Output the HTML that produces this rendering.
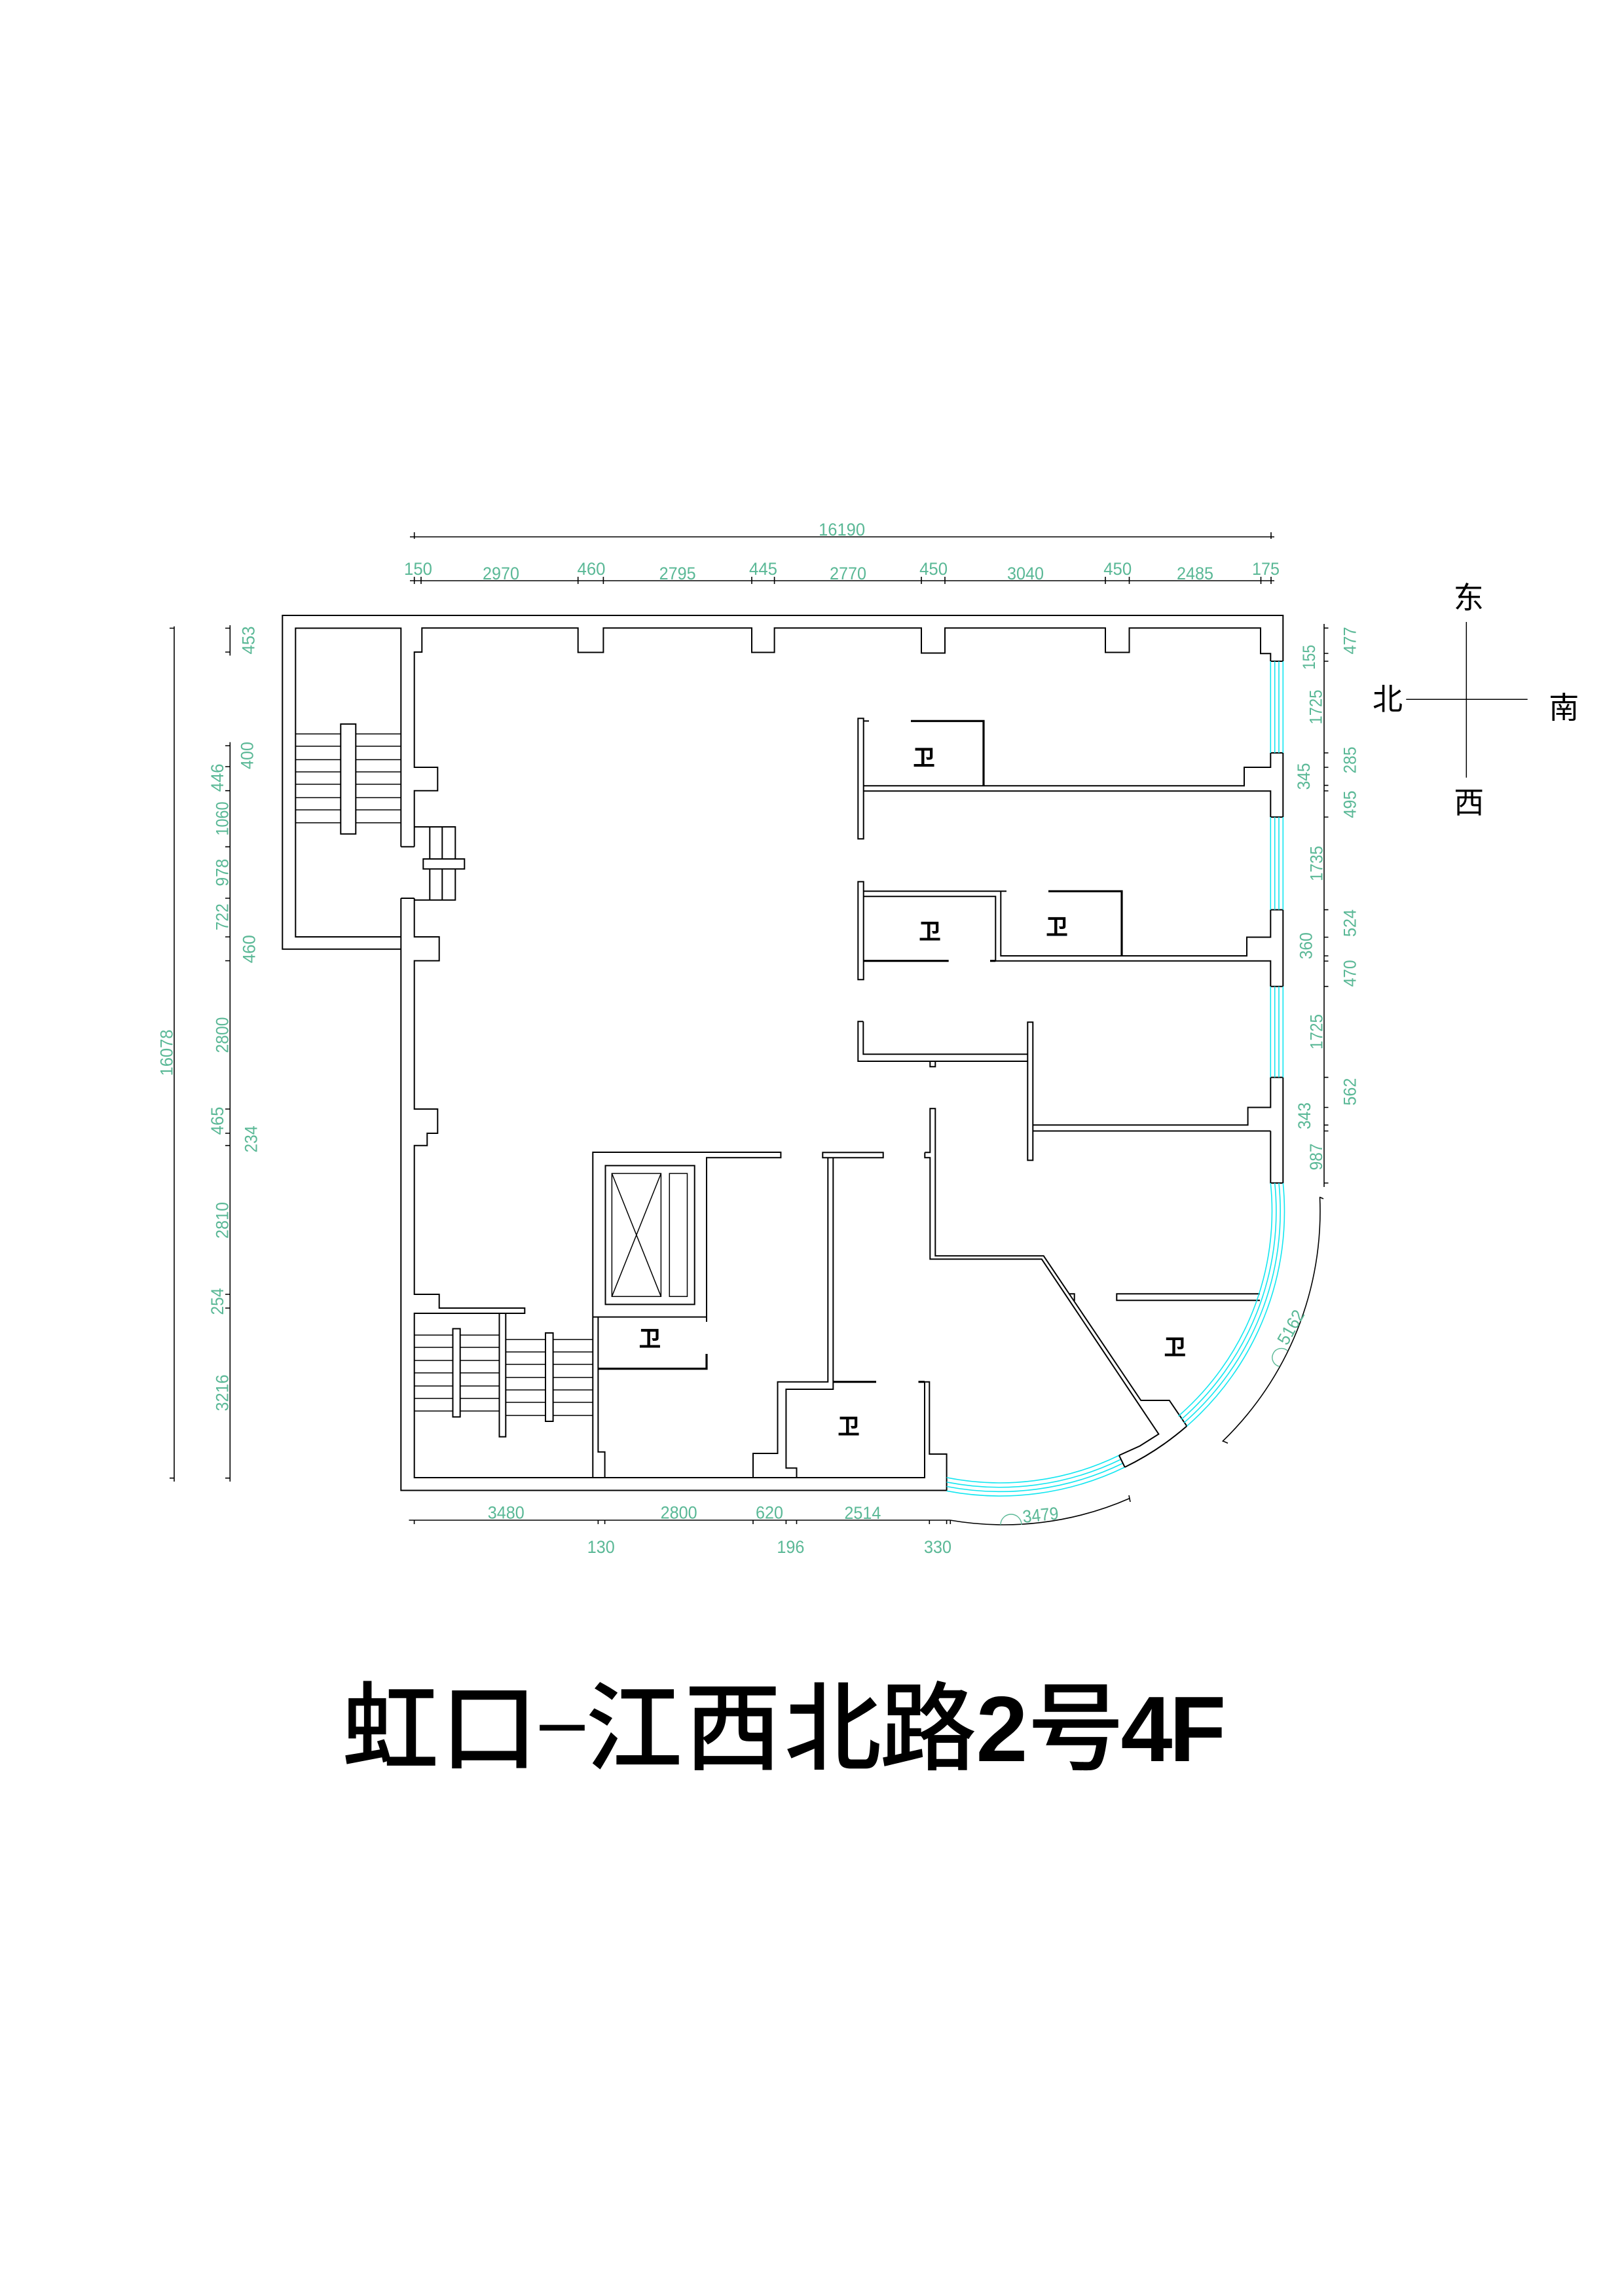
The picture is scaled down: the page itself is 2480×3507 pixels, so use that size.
<!DOCTYPE html>
<html><head><meta charset="utf-8"><style>
html,body{margin:0;padding:0;background:#fff}
svg{display:block}
.w{fill:none;stroke:#000;stroke-width:2}
.b{fill:none;stroke:#000;stroke-width:3.2}
.t{fill:none;stroke:#000;stroke-width:1.5}
.wf{fill:#fff;stroke:#000;stroke-width:2}
.c{fill:none;stroke:#12e6f0;stroke-width:1.6}
.d{fill:none;stroke:#000;stroke-width:1.6}
.g{fill:none;stroke:#5ab896;stroke-width:1.4}
.n{font-family:"Liberation Sans",sans-serif;font-size:27px;fill:#5ab896;text-anchor:middle}
.k{font-family:"Liberation Sans","Noto Sans CJK SC",sans-serif;font-size:34px;font-weight:bold;fill:#000;text-anchor:middle}
.cp{font-family:"Liberation Sans","Noto Sans CJK SC",sans-serif;font-size:46px;fill:#000;text-anchor:middle}
.tt{font-family:"Liberation Sans","Noto Sans CJK SC",sans-serif;font-size:148px;font-weight:500;fill:#000;text-anchor:middle}
.tl{font-family:"Liberation Sans",sans-serif;font-size:142px;font-weight:bold;fill:#000;text-anchor:middle}
.th{font-family:"Liberation Sans",sans-serif;font-size:148px;fill:#000;text-anchor:middle}
</style></head><body>
<svg width="2480" height="3507" viewBox="0 0 2480 3507" xmlns="http://www.w3.org/2000/svg">
<rect width="2480" height="3507" fill="#fff"/>

<!-- ===== TOP DIMENSIONS ===== -->
<path class="d" d="M626 820H1946M632.7 813V823M1941 813V823"/>
<path class="d" d="M626 887H1946M632.7 881V892M643 881V892M882.7 881V892M921.4 881V892M1148 881V892M1182.6 881V892M1407 881V892M1443 881V892M1688 881V892M1724.5 881V892M1925.5 881V892M1941 881V892"/>
<text class="n" x="1285.6" y="818" textLength="71" lengthAdjust="spacingAndGlyphs">16190</text>
<text class="n" x="638.5" y="878" textLength="43" lengthAdjust="spacingAndGlyphs">150</text>
<text class="n" x="765" y="885" textLength="56" lengthAdjust="spacingAndGlyphs">2970</text>
<text class="n" x="903" y="878" textLength="43" lengthAdjust="spacingAndGlyphs">460</text>
<text class="n" x="1034.6" y="885" textLength="56" lengthAdjust="spacingAndGlyphs">2795</text>
<text class="n" x="1165.5" y="878" textLength="43" lengthAdjust="spacingAndGlyphs">445</text>
<text class="n" x="1295" y="885" textLength="56" lengthAdjust="spacingAndGlyphs">2770</text>
<text class="n" x="1425.6" y="878" textLength="43" lengthAdjust="spacingAndGlyphs">450</text>
<text class="n" x="1566" y="885" textLength="56" lengthAdjust="spacingAndGlyphs">3040</text>
<text class="n" x="1706.7" y="878" textLength="43" lengthAdjust="spacingAndGlyphs">450</text>
<text class="n" x="1825" y="885" textLength="56" lengthAdjust="spacingAndGlyphs">2485</text>
<text class="n" x="1933" y="878" textLength="42" lengthAdjust="spacingAndGlyphs">175</text>

<!-- ===== LEFT DIMENSIONS ===== -->
<path class="d" d="M266 956.8V2263M259 959.5H266M259 2257.7H266"/>
<path class="d" d="M351.3 955V1001.4M351.3 1133.6V2263M344 959.5H351.3M344 996H351.3M344 1139H351.3M344 1171H351.3M344 1207.7H351.3M344 1293.4H351.3M344 1372H351.3M344 1431H351.3M344 1467.5H351.3M344 1694H351.3M344 1731H351.3M344 1749.7H351.3M344 1977H351.3M344 1998H351.3M344 2257.7H351.3"/>
<g class="n">
<text transform="translate(254,1608) rotate(-90)" x="0" y="9.7" textLength="71" lengthAdjust="spacingAndGlyphs">16078</text>
<text transform="translate(331.3,1188) rotate(-90)" x="0" y="9.7" textLength="43" lengthAdjust="spacingAndGlyphs">446</text>
<text transform="translate(338.7,1250.5) rotate(-90)" x="0" y="9.7" textLength="52" lengthAdjust="spacingAndGlyphs">1060</text>
<text transform="translate(338.7,1332.7) rotate(-90)" x="0" y="9.7" textLength="42" lengthAdjust="spacingAndGlyphs">978</text>
<text transform="translate(338.7,1400.6) rotate(-90)" x="0" y="9.7" textLength="41" lengthAdjust="spacingAndGlyphs">722</text>
<text transform="translate(338.7,1581) rotate(-90)" x="0" y="9.7" textLength="55" lengthAdjust="spacingAndGlyphs">2800</text>
<text transform="translate(331.3,1712) rotate(-90)" x="0" y="9.7" textLength="43" lengthAdjust="spacingAndGlyphs">465</text>
<text transform="translate(338.7,1864) rotate(-90)" x="0" y="9.7" textLength="56" lengthAdjust="spacingAndGlyphs">2810</text>
<text transform="translate(331.3,1988) rotate(-90)" x="0" y="9.7" textLength="41" lengthAdjust="spacingAndGlyphs">254</text>
<text transform="translate(338.7,2127.5) rotate(-90)" x="0" y="9.7" textLength="56" lengthAdjust="spacingAndGlyphs">3216</text>
<text transform="translate(379,978) rotate(-90)" x="0" y="9.7" textLength="43" lengthAdjust="spacingAndGlyphs">453</text>
<text transform="translate(377,1154) rotate(-90)" x="0" y="9.7" textLength="42" lengthAdjust="spacingAndGlyphs">400</text>
<text transform="translate(380,1449.7) rotate(-90)" x="0" y="9.7" textLength="43" lengthAdjust="spacingAndGlyphs">460</text>
<text transform="translate(383,1740) rotate(-90)" x="0" y="9.7" textLength="41" lengthAdjust="spacingAndGlyphs">234</text>
</g>

<!-- ===== RIGHT DIMENSIONS ===== -->
<path class="d" d="M2022 953V1813M2022 959.3H2028.5M2022 998H2028.5M2022 1010H2028.5M2022 1150H2028.5M2022 1172H2028.5M2022 1199.6H2028.5M2022 1208H2028.5M2022 1248H2028.5M2022 1389.6H2028.5M2022 1431.5H2028.5M2022 1460H2028.5M2022 1468H2028.5M2022 1506.7H2028.5M2022 1645.6H2028.5M2022 1691.5H2028.5M2022 1718.4H2028.5M2022 1727.5H2028.5M2022 1807H2028.5"/>
<g class="n">
<text transform="translate(1998.5,1004) rotate(-90)" x="0" y="9.7" textLength="38" lengthAdjust="spacingAndGlyphs">155</text>
<text transform="translate(2009,1080) rotate(-90)" x="0" y="9.7" textLength="53" lengthAdjust="spacingAndGlyphs">1725</text>
<text transform="translate(1990.5,1186) rotate(-90)" x="0" y="9.7" textLength="41" lengthAdjust="spacingAndGlyphs">345</text>
<text transform="translate(2009.7,1319) rotate(-90)" x="0" y="9.7" textLength="54" lengthAdjust="spacingAndGlyphs">1735</text>
<text transform="translate(1993.6,1444.7) rotate(-90)" x="0" y="9.7" textLength="41" lengthAdjust="spacingAndGlyphs">360</text>
<text transform="translate(2009.7,1576) rotate(-90)" x="0" y="9.7" textLength="54" lengthAdjust="spacingAndGlyphs">1725</text>
<text transform="translate(1991.3,1704.5) rotate(-90)" x="0" y="9.7" textLength="41" lengthAdjust="spacingAndGlyphs">343</text>
<text transform="translate(2009.3,1767) rotate(-90)" x="0" y="9.7" textLength="41" lengthAdjust="spacingAndGlyphs">987</text>
<text transform="translate(2061,978.5) rotate(-90)" x="0" y="9.7" textLength="42" lengthAdjust="spacingAndGlyphs">477</text>
<text transform="translate(2061,1161) rotate(-90)" x="0" y="9.7" textLength="41" lengthAdjust="spacingAndGlyphs">285</text>
<text transform="translate(2061,1228.6) rotate(-90)" x="0" y="9.7" textLength="42" lengthAdjust="spacingAndGlyphs">495</text>
<text transform="translate(2061,1410) rotate(-90)" x="0" y="9.7" textLength="42" lengthAdjust="spacingAndGlyphs">524</text>
<text transform="translate(2061,1486.8) rotate(-90)" x="0" y="9.7" textLength="41" lengthAdjust="spacingAndGlyphs">470</text>
<text transform="translate(2061,1667.6) rotate(-90)" x="0" y="9.7" textLength="42" lengthAdjust="spacingAndGlyphs">562</text>
</g>

<!-- ===== BOTTOM DIMENSIONS ===== -->
<path class="d" d="M624.5 2322H1451M632.6 2322V2328M913.4 2322V2328M923.6 2322V2328M1150 2322V2328M1200.4 2322V2328M1216.5 2322V2328M1419.3 2322V2328M1445.6 2322V2328M1451.3 2322V2328"/>
<path class="d" d="M1451 2322A480 480 0 0 0 1725.4 2288.5M1724 2284L1726 2294"/>
<text class="n" x="772.8" y="2319.6" textLength="56" lengthAdjust="spacingAndGlyphs">3480</text>
<text class="n" x="1036.6" y="2319.6" textLength="56" lengthAdjust="spacingAndGlyphs">2800</text>
<text class="n" x="1175" y="2319.6" textLength="42" lengthAdjust="spacingAndGlyphs">620</text>
<text class="n" x="1317.4" y="2320" textLength="56" lengthAdjust="spacingAndGlyphs">2514</text>
<text class="n" x="917.8" y="2372" textLength="42" lengthAdjust="spacingAndGlyphs">130</text>
<text class="n" x="1207.4" y="2372" textLength="42" lengthAdjust="spacingAndGlyphs">196</text>
<text class="n" x="1432" y="2372" textLength="42" lengthAdjust="spacingAndGlyphs">330</text>
<text class="n" transform="translate(1589,2313.5) rotate(-6)" x="0" y="9.7" textLength="55" lengthAdjust="spacingAndGlyphs">3479</text>
<path class="g" d="M1528 2329A16 16 0 0 1 1560 2329"/>

<!-- 5162 arc dim -->
<path class="d" d="M2015.5 1828.7A489 489 0 0 1 1866.7 2201.8M2015 1828.5L2021 1831M1868 2201.3L1875 2204.4"/>
<text class="n" transform="translate(1970.8,2027) rotate(-60.5)" x="0" y="9.7" textLength="56" lengthAdjust="spacingAndGlyphs">5162</text>
<path class="g" d="M1966 2063A14 14 0 1 0 1954 2087.3"/>

<!-- ===== COMPASS ===== -->
<path class="t" d="M2239.3 950V1187.7M2147.3 1068.3H2332.7"/>
<text class="cp" x="2242.7" y="929">东</text>
<text class="cp" x="2119" y="1084">北</text>
<text class="cp" x="2388.3" y="1097">南</text>
<text class="cp" x="2243.3" y="1242">西</text>

<!-- ===== WALLS ===== -->
<path class="w" d="M612.3 1449.7H431.3V940H1959.3V1010"/>
<path class="w" d="M612.3 1372V2276.5H1445.6V2221H1419.3V2110.7H1402.5"/>
<path class="w" d="M1959.3 1150V1248M1959.3 1389.6V1506.7M1959.3 1645.6V1807H1940.3V1727.5"/>
<path class="w" d="M1940.3 1010H1959.3M1940.3 1150H1959.3M1940.3 1248H1959.3M1940.3 1389.6H1959.3M1940.3 1506.7H1959.3M1940.3 1645.6H1959.3"/>
<path class="c" d="M1940.3 1010V1150M1946.7 1010V1150M1953 1010V1150M1959.3 1010V1150M1940.3 1248V1389.6M1946.7 1248V1389.6M1953 1248V1389.6M1959.3 1248V1389.6M1940.3 1506.7V1645.6M1946.7 1506.7V1645.6M1953 1506.7V1645.6M1959.3 1506.7V1645.6"/>

<!-- stair room -->
<path class="w" d="M612.3 1293.4V959.5H451.3V1431H612.3M612.3 1293.4H632.7M612.3 1372H632.7"/>
<path class="t" d="M451.3 1121H612.3M451.3 1139.8H612.3M451.3 1160.4H612.3M451.3 1179H612.3M451.3 1197.9H612.3M451.3 1218.4H612.3M451.3 1237H612.3M451.3 1256.8H612.3"/>
<rect class="wf" x="520.3" y="1105.9" width="23" height="167.9"/>

<path class="w" d="M632.7 1293.4V1207.7H668.3V1172H632.7V996H644.3V959.3H882.7V996.5H921.4V959.3H1148V996.5H1182.6V959.3H1407V997.5H1443V959.3H1688V996.5H1724.5V959.3H1925V998.3H1940.3V1010"/>
<path class="w" d="M632.7 1372V1431H670.7V1467.5H632.7V1694H668.3V1731H652.3V1749.7H632.7V1977H670.7V1998H801.3V2006H632.7V2257H1412V2110.7"/>

<path class="w" d="M632.7 1263H695.3V1374.7H632.7M656.3 1263V1374.7M675.3 1263V1374.7"/>
<rect class="wf" x="646.3" y="1312" width="63" height="15.3"/>

<path class="w" d="M1940.3 1150V1172H1900V1200.3H1318.7"/>
<path class="w" d="M1318.7 1208.3H1940.3V1248"/>
<path class="w" d="M1318.7 1361.3H1537M1528.3 1361.3V1460H1904V1431.5H1940.3V1389.6"/>
<path class="w" d="M1318.7 1369.3H1520.3V1467.7H1940.3V1506.7"/>
<path class="w" d="M1940.3 1645.6V1691.5H1905.6V1718.4H1577.3M1577.3 1727.5H1940.3"/>

<rect class="wf" x="1310.3" y="1097.3" width="8.4" height="184"/>
<path class="w" d="M1318.7 1101.3H1327"/>
<path class="b" d="M1391 1101.3H1502V1200.3"/>

<rect class="wf" x="1310.3" y="1346.7" width="8.4" height="149.6"/>
<path class="b" d="M1318.7 1467.7H1448.7M1512 1467.7H1520.3M1601 1361.3H1713V1460"/>

<path class="w" d="M1318.3 1560.3H1310.3V1621H1569.3M1318.3 1560.3V1610.3H1569.3"/>
<rect class="wf" x="1420.3" y="1621" width="8" height="8.3"/>
<rect class="wf" x="1569.3" y="1561.3" width="8" height="211"/>

<path class="w" d="M905.3 2257V1760H1192.4V1768.3H1079V2019M905.3 2011.6H1079"/>
<rect class="w" x="924.5" y="1780.4" width="136.2" height="212"/>
<rect class="t" x="934.4" y="1792.4" width="75" height="187.9"/>
<path class="t" d="M934.4 1792.4L1009.4 1980.3M1009.4 1792.4L934.4 1980.3"/>
<rect class="t" x="1022.3" y="1792.4" width="27.2" height="187.9"/>
<path class="w" d="M913.4 2011.6V2217.8H923.6V2257"/>
<path class="b" d="M913.4 2090.6H1079V2068"/>

<path class="t" d="M632.7 2039.3H762.5M632.7 2058H762.5M632.7 2078H762.5M632.7 2097H762.5M632.7 2117H762.5M632.7 2136H762.5M632.7 2155.3H762.5"/>
<path class="t" d="M772.3 2046H905.3M772.3 2065H905.3M772.3 2084H905.3M772.3 2104H905.3M772.3 2123H905.3M772.3 2142H905.3M772.3 2162H905.3"/>
<rect class="wf" x="691.5" y="2029.5" width="11.2" height="134.8"/>
<rect class="wf" x="833" y="2036" width="11.6" height="135"/>
<rect class="wf" x="762.5" y="2006" width="9.8" height="188.6"/>

<rect class="wf" x="1256.3" y="1760.3" width="92.4" height="8"/>
<path class="w" d="M1264.3 1768.3V2110.7H1187.5V2220H1150V2257"/>
<path class="w" d="M1272.3 1768.3V2122H1200.4V2242.4H1216.5V2257"/>
<path class="b" d="M1272.3 2110.7H1338M1402.5 2110.7H1412"/>

<path class="w" d="M1412.3 1760.3H1420.3V1693.3H1428.3V1918.3H1593.7L1742.3 2139H1785.7L1812.4 2178.3"/>
<path class="w" d="M1412.3 1760.3V1768.3H1420.3V1923.3H1590.8L1769.4 2190.5L1740.7 2208.6L1708.9 2223"/>
<path class="w" d="M1633.3 1976.3H1640.7V1987"/>
<path class="w" d="M1924 1976.3H1705.3V1986.3H1924"/>

<path class="c" d="M1959.3 1807A435 435 0 0 1 1812.4 2178.3M1953 1807A428.3 428.3 0 0 1 1808 2173.2M1946.7 1807A421.7 421.7 0 0 1 1803.7 2168.3M1940.3 1807A415 415 0 0 1 1799.3 2163.2"/>
<path class="c" d="M1717.7 2241A435 435 0 0 1 1445.6 2277.3M1714.8 2235A428.3 428.3 0 0 1 1445.6 2270.5M1711.9 2229A421.7 421.7 0 0 1 1445.6 2263.8M1708.9 2223A415 415 0 0 1 1445.6 2256.9"/>
<path class="w" d="M1812.4 2178.3A435 435 0 0 1 1717.7 2241M1708.9 2223L1717.7 2241"/>

<text class="k" x="1411" y="1169">卫</text>
<text class="k" x="1420" y="1434.7">卫</text>
<text class="k" x="1614" y="1427.3">卫</text>
<text class="k" x="992.4" y="2056.7">卫</text>
<text class="k" x="1296" y="2190.5">卫</text>
<text class="k" x="1794.3" y="2069.6">卫</text>

<!-- ===== TITLE ===== -->
<text class="tt" x="596" y="2692">虹</text>
<text class="tt" x="746.8" y="2692">口</text>
<text class="th" transform="translate(858.5,2638.5) scale(1.9,0.75)" x="0" y="40">-</text>
<text class="tt" x="968" y="2692">江</text>
<text class="tt" x="1119" y="2692">西</text>
<text class="tt" x="1272" y="2692">北</text>
<text class="tt" x="1417.3" y="2692">路</text>
<text class="tl" x="1530" y="2690">2</text>
<text class="tt" x="1643" y="2692">号</text>
<text class="tl" x="1751" y="2690">4</text>
<text class="tl" x="1829" y="2690">F</text>
</svg>
</body></html>
